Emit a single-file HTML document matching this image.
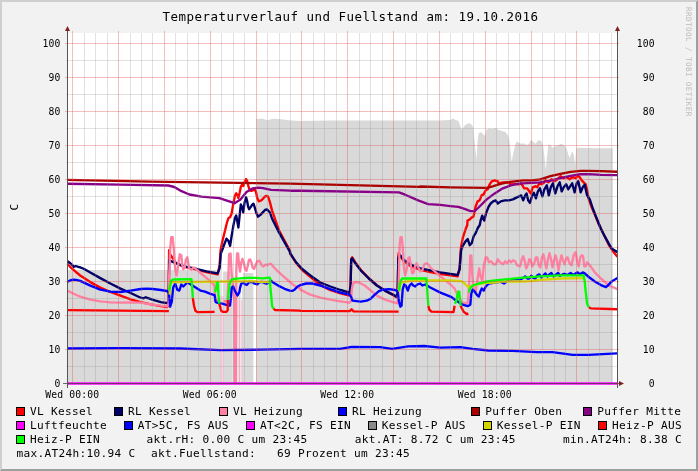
<!DOCTYPE html>
<html><head><meta charset="utf-8"><title>Temperaturverlauf und Fuellstand</title>
<style>html,body{margin:0;padding:0;background:#f2f2f2}svg{display:block}</style></head>
<body>
<svg width="698" height="471" viewBox="0 0 698 471">
<rect width="698" height="471" fill="#f2f2f2"/>
<path d="M0,0H698V2H2V471H0Z" fill="#cfcfcf"/>
<path d="M698,471H0L2,469H696V2L698,0Z" fill="#9e9e9e"/>
<rect x="67" y="33" width="550" height="350" fill="#fff"/>
<rect x="67.0" y="270.0" width="153.7" height="113.0" fill="#d9d9d9"/>
<rect x="222.9" y="271.5" width="9.6" height="111.5" fill="#d9d9d9"/>
<rect x="232.5" y="280.0" width="5.0" height="103.0" fill="#d9d9d9"/>
<rect x="238.3" y="280.0" width="2.2" height="103.0" fill="#d9d9d9"/>
<rect x="241.9" y="280.0" width="0.9" height="103.0" fill="#d9d9d9"/>
<rect x="242.8" y="273.0" width="10.5" height="110.0" fill="#d9d9d9"/>
<path d="M256.2,383 L256.2,118.7 L262.6,118.7 L267.1,120.2 L273.1,118.7 L279.1,119.0 L288.1,120.2 L300.2,121.1 L330.3,120.5 L438.6,120.5 L440.0,120.6 L450.3,120.1 L452.9,118.6 L455.5,120.1 L458.6,121.1 L460.1,125.8 L461.9,129.7 L464.5,125.8 L467.1,123.7 L469.7,123.2 L472.2,125.3 L473.5,128.4 L474.3,138.7 L475.6,151.6 L476.6,159.3 L477.6,141.3 L478.7,133.0 L481.3,132.2 L483.8,134.8 L485.1,136.1 L486.4,129.7 L489.0,128.4 L492.9,128.9 L495.4,127.8 L498.0,129.7 L501.9,130.9 L505.8,132.2 L507.6,134.8 L509.1,138.7 L510.1,146.4 L511.7,161.9 L513.0,154.2 L514.8,146.4 L516.6,141.3 L518.6,142.5 L521.2,143.8 L523.8,143.3 L526.4,145.1 L529.0,143.8 L530.8,140.0 L532.8,141.3 L535.4,143.8 L538.0,140.7 L540.1,140.0 L541.9,142.5 L543.1,145.1 L544.4,156.7 L545.7,169.6 L547.0,156.7 L548.3,145.1 L550.4,144.4 L552.2,147.7 L554.7,146.4 L558.6,145.1 L561.2,143.8 L563.8,145.1 L566.4,147.7 L568.2,154.2 L569.7,158.0 L571.5,152.9 L572.8,151.6 L574.1,156.7 L575.1,165.8 L576.2,149.0 L577.2,147.7 L594.7,148.2 L612.8,148.2 L612.8,383 Z" fill="#d9d9d9"/>
<g clip-path="url(#cp)">
<clipPath id="cp"><rect x="67" y="33" width="550" height="352"/></clipPath>
<path d="M67.1,263.4 L70.1,266.8 L74.1,270.4 L80.2,275.5 L90.3,282.1 L100.3,287.6 L110.4,292.0 L120.5,295.7 L130.6,299.3 L140.7,302.1 L150.8,304.3 L160.9,306.1 L166.9,307.1 L168.5,305.7 L168.9,280.5 L169.1,250.3 L169.4,253.2 L176.2,263.3 L184.3,266.8 L194.4,269.2 L206.5,272.2 L217.6,274.4 L219.6,265.3 L220.6,250.0 L222.2,241.9 L223.8,235.5 L225.4,229.1 L226.9,222.8 L228.5,218.0 L230.1,217.2 L231.7,213.2 L233.3,203.7 L234.9,195.7 L236.2,193.3 L237.3,194.9 L238.4,198.1 L239.7,192.5 L240.8,186.9 L242.1,184.6 L243.3,186.1 L244.5,182.2 L246.1,179.0 L247.3,181.4 L248.4,186.1 L249.7,190.1 L251.3,190.9 L253.2,190.1 L254.8,189.3 L256.1,192.5 L257.2,198.1 L258.8,201.3 L261.2,200.5 L263.6,198.1 L265.0,196.5 L266.0,195.9 L268.0,196.3 L270.0,202.4 L272.0,210.4 L279.1,230.6 L290.0,250.8 L290.1,253.6 L296.1,262.9 L302.2,270.0 L310.3,276.8 L320.3,285.1 L330.4,290.2 L340.5,293.4 L349.6,295.6 L350.6,285.5 L351.2,259.3 L352.2,257.3 L356.7,264.3 L360.7,269.8 L368.8,278.1 L376.8,285.1 L384.9,290.6 L393.0,295.0 L396.6,297.2 L397.6,293.6 L398.4,255.3 L398.7,253.2 L399.5,255.3 L404.1,261.5 L410.2,265.8 L420.3,269.8 L430.3,272.0 L440.4,274.0 L450.5,275.4 L457.6,276.4 L459.6,268.4 L461.0,247.2 L463.0,237.1 L465.7,229.0 L467.3,225.0 L467.5,220.6 L469.5,219.6 L471.5,217.6 L473.5,216.6 L475.6,206.5 L477.6,201.4 L479.6,200.4 L481.6,195.4 L483.6,194.4 L485.7,190.3 L487.7,189.3 L489.7,184.3 L491.7,181.3 L494.7,180.3 L497.8,181.3 L498.8,183.3 L502.8,182.3 L506.8,182.3 L510.9,184.3 L514.9,183.9 L518.9,184.3 L521.2,183.3 L524.2,188.3 L527.2,188.3 L529.3,191.4 L530.9,193.4 L532.7,187.3 L535.3,186.3 L537.3,187.3 L539.3,183.3 L541.4,184.3 L543.4,183.3 L545.4,180.3 L548.4,182.3 L551.4,179.3 L554.5,181.3 L557.5,179.3 L560.5,176.2 L563.5,178.2 L566.6,177.2 L569.6,179.3 L572.6,177.2 L575.7,178.2 L577.7,175.8 L579.7,177.2 L581.7,180.3 L583.7,182.3 L585.7,184.3 L587.1,190.3 L588.8,199.4 L591.8,207.5 L594.8,214.6 L598.9,224.6 L602.9,232.7 L606.9,240.8 L608.9,245.0 L613.0,251.2 L617.4,256.9" fill="none" stroke="#ff0000" stroke-width="2.35" stroke-linejoin="round" stroke-linecap="butt"/>
<path d="M67.1,261.0 L70.1,263.0 L72.1,264.8 L73.7,266.8 L75.7,266.0 L78.2,266.8 L80.2,267.4 L84.2,269.0 L90.3,272.5 L100.3,278.1 L110.4,283.5 L120.5,288.6 L130.6,293.0 L140.7,297.7 L143.7,298.3 L145.7,297.3 L148.8,298.3 L154.8,300.3 L160.9,302.1 L166.9,303.1 L168.3,301.7 L168.9,280.5 L169.1,260.3 L169.2,260.3 L176.2,263.3 L184.3,266.4 L194.4,268.4 L206.5,271.4 L217.6,273.4 L219.6,268.4 L221.0,253.2 L222.2,250.0 L224.6,243.5 L226.5,238.7 L228.5,241.1 L230.1,245.9 L231.7,235.5 L233.3,226.0 L234.9,218.0 L236.2,215.6 L237.3,221.2 L238.4,227.5 L239.7,214.8 L240.8,204.5 L242.1,206.8 L243.3,212.4 L244.5,202.9 L246.1,197.3 L247.2,201.3 L248.1,206.8 L249.2,209.2 L250.8,206.8 L252.4,204.5 L253.5,203.7 L254.8,207.6 L256.4,213.2 L258.0,216.7 L260.4,214.8 L262.8,212.4 L265.0,210.0 L267.0,209.4 L270.0,212.5 L272.0,218.5 L279.1,232.6 L290.0,251.8 L290.1,253.2 L296.1,262.3 L302.2,269.0 L310.3,275.4 L320.3,282.5 L330.4,286.5 L340.5,290.0 L349.6,292.6 L350.6,285.5 L351.2,259.3 L352.2,258.3 L354.6,262.3 L360.7,270.4 L368.8,278.5 L376.8,285.5 L384.9,290.6 L393.0,294.6 L396.6,296.6 L397.6,293.6 L398.4,257.3 L398.7,257.3 L400.1,255.3 L404.1,260.3 L410.2,264.3 L420.3,268.4 L430.3,270.4 L440.4,272.4 L450.5,273.8 L457.6,275.0 L459.6,269.4 L461.0,251.2 L462.6,246.2 L465.7,241.1 L467.7,239.1 L469.7,245.2 L471.7,243.2 L473.7,236.1 L475.7,233.1 L477.8,228.0 L479.8,225.0 L480.6,220.6 L482.2,215.6 L484.2,220.6 L486.3,212.5 L488.7,206.5 L490.7,203.5 L493.1,201.4 L495.7,200.4 L497.8,203.5 L500.8,201.4 L504.8,200.4 L508.9,200.4 L512.9,199.4 L516.9,197.4 L519.2,196.4 L521.2,195.4 L523.2,200.4 L525.2,195.4 L526.6,193.4 L528.2,200.4 L529.9,202.9 L531.9,196.4 L533.9,192.8 L535.9,198.4 L537.9,191.4 L539.9,188.3 L542.4,196.4 L544.4,189.3 L546.8,185.3 L548.8,195.4 L550.8,187.3 L552.9,183.3 L555.3,193.4 L557.5,186.3 L559.7,182.3 L561.7,191.4 L563.7,187.3 L566.2,184.3 L568.2,189.3 L570.2,186.3 L572.2,183.3 L574.6,192.4 L576.7,183.3 L578.3,181.3 L580.7,192.4 L582.7,187.3 L584.7,184.7 L587.1,195.4 L589.8,199.4 L592.8,208.5 L596.8,218.6 L600.9,228.7 L604.9,236.7 L608.9,243.8 L612.0,248.8 L617.4,252.2" fill="none" stroke="#000066" stroke-width="2.35" stroke-linejoin="round" stroke-linecap="butt"/>
<path d="M67.1,290.6 L72.1,293.0 L80.2,296.7 L90.3,299.7 L100.3,301.3 L110.4,302.3 L120.5,302.7 L130.6,302.3 L140.7,302.7 L150.8,304.3 L160.9,305.7 L166.9,306.3 L168.5,304.7 L168.8,285.5 L170.2,249.2 L171.2,237.1 L172.6,237.1 L173.8,249.2 L175.2,269.4 L176.6,275.4 L178.2,265.3 L179.7,254.3 L181.3,255.3 L182.3,265.3 L183.3,269.4 L184.7,267.4 L185.9,259.3 L187.3,257.3 L188.3,263.3 L189.3,268.4 L191.4,269.8 L193.4,267.4 L196.0,269.1 L210.1,281.1 L213.6,284.2 L214.6,287.0 L215.0,296.0 L216.0,300.0 L220.0,301.0" fill="none" stroke="#ff80a0" stroke-width="2.35" stroke-linejoin="round" stroke-linecap="butt"/>
<path d="M223.5,301.0 L227.5,302.0 L228.1,286.1 L229.1,254.0 L230.6,253.5 L231.6,273.1 L233.1,287.0 L234.3,300.0 L234.7,383.0 L235.9,383.0 L236.3,270.1 L237.1,253.5 L238.1,253.5 L239.1,265.1 L240.0,271.6 L241.3,262.6 L242.5,258.8 L243.8,262.6 L245.1,269.0 L246.4,270.9 L247.6,266.5 L248.9,260.1 L250.2,259.5 L251.5,262.6 L252.7,267.7 L254.0,269.0 L255.3,265.8 L257.2,261.4 L259.1,260.7 L260.4,262.6 L261.7,265.2 L263.6,266.5 L265.5,264.6 L267.4,265.2 L269.3,263.9 L271.2,263.9 L273.1,266.5 L278.2,271.6 L284.6,277.3 L291.0,283.0 L296.0,286.8 L300.0,288.4 L300.2,289.6 L310.3,294.6 L320.3,297.6 L330.4,299.6 L340.5,301.3 L349.6,302.7 L351.0,300.7 L351.8,289.6 L353.0,283.5 L355.7,282.1 L358.7,282.5 L364.7,285.5 L370.8,290.6 L376.8,295.6 L384.9,299.6 L393.0,302.1 L397.6,303.3 L398.6,285.5 L399.4,253.2 L399.7,245.2 L400.5,237.1 L401.7,237.1 L402.7,247.2 L403.7,265.3 L405.1,275.4 L406.7,269.4 L408.2,258.3 L409.6,257.3 L410.8,265.3 L412.2,273.4 L413.8,272.4 L415.2,265.3 L416.6,263.3 L418.2,267.4 L420.3,271.4 L422.3,270.4 L424.3,264.3 L426.3,263.3 L428.3,264.3 L430.3,267.4 L440.4,276.4 L450.5,284.5 L454.6,288.5 L458.6,297.6 L462.6,302.7 L467.7,303.3 L469.1,285.5 L470.3,255.3 L471.3,255.3 L472.3,275.4 L473.7,289.6 L475.7,291.6 L477.8,277.5 L479.2,268.4 L480.8,277.5 L482.4,280.5 L483.8,265.3 L485.8,257.3 L487.2,257.3 L488.9,262.3 L490.9,261.3 L493.9,264.3 L495.9,264.3 L497.9,259.3 L499.9,262.3 L500.0,262.3 L503.0,264.3 L505.0,261.3 L507.1,263.3 L509.1,260.3 L511.1,262.3 L513.1,260.3 L515.1,261.3 L517.1,265.3 L520.2,266.4 L521.8,259.3 L523.2,256.3 L524.6,260.3 L526.2,268.4 L527.8,265.3 L529.3,259.3 L530.7,260.3 L532.3,266.4 L534.3,263.3 L535.9,257.3 L537.3,257.3 L538.7,265.3 L540.3,267.4 L542.0,257.3 L543.4,254.3 L544.8,261.3 L546.4,268.4 L548.0,259.3 L549.4,253.2 L550.8,258.3 L552.5,267.4 L554.1,260.3 L555.5,255.3 L556.9,260.3 L558.5,270.4 L560.1,261.3 L561.5,255.3 L562.9,260.3 L564.6,264.3 L566.2,258.3 L567.6,257.3 L569.6,263.3 L571.6,265.3 L573.6,255.3 L575.7,252.2 L577.1,261.3 L578.7,266.4 L580.3,257.3 L581.7,255.3 L583.1,256.3 L584.3,266.4 L585.7,266.4 L587.1,262.3 L589.8,265.3 L594.8,272.4 L600.9,278.5 L608.9,285.5 L617.4,289.2" fill="none" stroke="#ff80a0" stroke-width="2.35" stroke-linejoin="round" stroke-linecap="butt"/>
<path d="M220.9,296 V383" stroke="#ff90b4" stroke-opacity=".6" stroke-width="1"/>
<path d="M222.9,296 V383" stroke="#ff90b4" stroke-opacity=".6" stroke-width="1"/>
<path d="M239.6,300 V383" stroke="#ff90b4" stroke-opacity=".6" stroke-width="1"/>
<path d="M241.8,300 V383" stroke="#ff90b4" stroke-opacity=".6" stroke-width="1"/>
<path d="M67.1,281.9 L70.1,280.5 L73.1,279.7 L76.1,279.9 L80.2,280.9 L90.3,285.6 L100.3,289.6 L110.4,291.6 L120.5,292.0 L130.6,290.6 L140.7,289.0 L146.7,288.6 L152.8,289.0 L160.9,290.0 L166.9,291.0 L168.9,292.6 L170.2,306.7 L171.8,301.7 L173.2,287.5 L175.2,283.5 L177.2,289.6 L179.3,290.6 L181.3,284.5 L183.3,286.5 L185.3,284.5 L187.3,282.5 L189.3,283.5 L192.4,285.5 L200.4,290.6 L205.0,291.7 L209.8,293.6 L214.6,295.1 L215.5,301.7 L216.9,302.7 L222.2,303.7 L227.0,305.1 L230.0,305.6 L230.8,298.9 L231.7,287.4 L233.2,286.5 L234.6,290.3 L237.5,295.5 L239.4,292.2 L240.0,288.1 L241.3,283.7 L243.2,282.4 L245.1,284.3 L247.0,284.9 L248.9,282.4 L250.8,281.8 L252.7,282.4 L254.6,283.7 L257.2,284.3 L259.1,282.4 L261.7,281.8 L264.2,283.0 L266.8,283.7 L268.7,282.4 L270.6,280.5 L273.1,282.4 L278.2,285.6 L284.6,288.8 L289.7,290.7 L292.2,290.9 L294.8,289.4 L297.3,286.8 L300.0,285.3 L300.2,285.1 L306.2,283.5 L312.3,283.5 L320.3,285.5 L330.4,289.2 L340.5,292.6 L349.6,294.6 L351.0,296.6 L352.6,300.7 L360.7,301.7 L366.7,300.7 L370.8,298.6 L374.8,294.6 L378.9,291.2 L382.9,289.6 L388.9,289.2 L395.0,290.0 L397.6,291.2 L399.0,301.7 L400.4,306.7 L401.6,305.7 L401.7,302.7 L402.7,289.6 L404.1,284.5 L405.7,285.5 L407.8,290.6 L409.6,285.5 L411.6,283.5 L413.2,285.5 L415.2,286.5 L417.2,284.5 L420.3,283.5 L422.3,285.5 L425.3,284.5 L430.3,287.5 L440.4,292.6 L450.5,296.6 L456.6,300.7 L462.6,304.7 L467.7,306.1 L470.3,304.7 L471.3,293.6 L472.7,289.6 L474.7,291.6 L476.7,294.6 L478.8,296.6 L480.4,291.6 L481.8,288.5 L483.8,290.6 L485.8,286.5 L488.9,283.5 L494.9,282.5 L499.9,281.9 L500.0,281.5 L504.0,283.5 L508.1,280.5 L512.1,279.5 L516.1,279.1 L520.2,279.5 L523.2,277.9 L525.2,276.4 L527.2,278.5 L529.3,278.5 L531.3,275.8 L533.3,277.9 L535.3,278.5 L537.3,275.4 L539.3,274.4 L541.4,277.5 L543.4,275.4 L545.4,273.4 L547.4,276.4 L549.4,274.4 L551.4,273.0 L553.5,276.4 L555.5,275.0 L558.1,273.0 L560.1,275.8 L562.5,274.4 L564.6,273.8 L567.6,275.0 L570.6,273.0 L573.0,275.0 L575.7,273.4 L577.7,272.4 L579.7,274.4 L582.7,272.4 L584.7,273.4 L588.8,277.0 L594.8,281.5 L600.9,285.1 L605.9,287.1 L607.9,285.5 L611.0,282.1 L617.4,277.9" fill="none" stroke="#0000ff" stroke-width="2.35" stroke-linejoin="round" stroke-linecap="butt"/>
<path d="M67.0,179.8 L150.0,181.6 L290.0,183.7 L420.0,186.8 L420.1,186.5 L450.3,187.3 L486.7,187.9 L492.7,186.3 L498.8,184.3 L506.8,182.3 L514.9,181.3 L523.0,180.3 L531.0,180.3 L541.1,179.3 L540.3,179.3 L550.4,176.2 L560.5,173.8 L570.6,171.8 L580.7,170.8 L588.8,170.8 L600.9,171.2 L617.4,171.8" fill="none" stroke="#aa0000" stroke-width="2.35" stroke-linejoin="round" stroke-linecap="butt"/>
<path d="M66.3,183.7 L120.2,184.6 L168.3,185.5 L174.3,187.0 L180.3,190.6 L189.4,194.5 L201.4,196.6 L219.4,198.1 L228.5,201.1 L234.5,203.2 L240.5,199.6 L246.5,192.1 L252.5,188.5 L258.6,187.6 L263.0,188.2 L271.0,189.9 L290.0,190.7 L300.2,190.7 L399.0,192.3 L405.1,194.7 L413.1,198.3 L410.0,196.8 L418.1,200.4 L428.2,204.1 L440.3,204.9 L450.3,206.1 L458.4,206.9 L464.5,208.9 L470.5,211.1 L474.6,211.1 L478.6,207.5 L486.7,199.4 L494.7,193.4 L502.8,188.3 L510.9,185.3 L518.9,183.7 L531.0,182.9 L541.1,182.3 L540.3,182.3 L550.4,180.7 L560.5,178.2 L570.6,175.8 L580.7,174.2 L588.8,174.2 L600.9,174.8 L617.4,175.2" fill="none" stroke="#880088" stroke-width="2.35" stroke-linejoin="round" stroke-linecap="butt"/>
<path d="M66.8,348.5 L120.2,348.1 L180.3,348.5 L220.4,350.1 L260.6,349.7 L300.7,348.9 L340.0,348.9 L352.0,346.8 L380.1,347.2 L392.1,348.9 L408.2,346.4 L424.2,346.0 L440.3,347.6 L460.3,347.2 L472.4,348.9 L488.4,350.5 L512.5,350.9 L536.6,352.1 L552.6,352.1 L572.7,354.9 L588.7,354.9 L617.6,353.3" fill="none" stroke="#0000ff" stroke-width="2.35" stroke-linejoin="round" stroke-linecap="butt"/>
<path d="M169.6,294.6 L170.2,283.5 L172.2,282.1 L240.0,281.4 L252.7,281.1 L259.0,281.8 L270.0,282.0" fill="none" stroke="#d4d400" stroke-width="2.35" stroke-linejoin="round" stroke-linecap="butt"/>
<path d="M399.0,291.6 L400.4,284.5 L402.0,282.1 L410.2,280.9 L430.3,280.5 L450.5,280.5 L461.6,281.1 L464.6,283.5 L467.7,286.5 L469.7,287.1 L472.7,285.5 L478.8,283.9 L486.8,282.9 L494.9,282.5 L500.0,281.5 L520.2,281.5 L530.3,281.1 L540.3,279.9 L560.5,278.5 L583.7,278.1" fill="none" stroke="#d4d400" stroke-width="2.35" stroke-linejoin="round" stroke-linecap="butt"/>
<path d="M67.1,310.2 L168.9,311.2" fill="none" stroke="#ff0000" stroke-width="2.35" stroke-linejoin="round" stroke-linecap="butt"/>
<path d="M192.8,297.6 L194.0,305.7 L195.4,310.7 L197.4,312.1 L214.6,311.8" fill="none" stroke="#ff0000" stroke-width="2.35" stroke-linejoin="round" stroke-linecap="butt"/>
<path d="M219.3,303.7 L220.3,307.5 L221.2,310.8 L222.7,311.8 L226.5,311.8 L227.7,310.3 L227.9,299.8" fill="none" stroke="#ff0000" stroke-width="2.35" stroke-linejoin="round" stroke-linecap="butt"/>
<path d="M273.4,308.5 L275.0,310.0 L300.0,310.7 L300.2,310.9 L349.6,311.1 L351.6,309.3 L353.6,311.3 L398.6,311.7" fill="none" stroke="#ff0000" stroke-width="2.35" stroke-linejoin="round" stroke-linecap="butt"/>
<path d="M428.3,305.7 L429.3,309.7 L431.4,311.7 L453.5,312.1 L454.6,305.7" fill="none" stroke="#ff0000" stroke-width="2.35" stroke-linejoin="round" stroke-linecap="butt"/>
<path d="M460.6,305.7 L463.6,311.7 L466.7,314.2 L468.3,313.4" fill="none" stroke="#ff0000" stroke-width="2.35" stroke-linejoin="round" stroke-linecap="butt"/>
<path d="M588.8,307.3 L590.8,308.3 L617.4,309.3" fill="none" stroke="#ff0000" stroke-width="2.35" stroke-linejoin="round" stroke-linecap="butt"/>
<path d="M169.2,290.6 L170.2,285.5 L171.2,280.5 L173.2,279.5 L191.4,279.1 L192.0,285.5 L192.8,297.6" fill="none" stroke="#00ff00" stroke-width="2.35" stroke-linejoin="round" stroke-linecap="butt"/>
<path d="M215.0,292.2 L216.0,289.3 L216.9,282.6 L217.9,282.6 L218.4,294.1 L219.3,303.7" fill="none" stroke="#00ff00" stroke-width="2.35" stroke-linejoin="round" stroke-linecap="butt"/>
<path d="M227.9,299.8 L228.9,289.3 L230.0,282.6 L231.3,279.8 L233.7,278.8 L246.4,277.9 L255.3,277.9 L263.0,278.3 L268.7,277.7 L270.0,278.0 L270.3,286.8 L271.2,295.8 L272.1,306.0 L273.4,308.5" fill="none" stroke="#00ff00" stroke-width="2.35" stroke-linejoin="round" stroke-linecap="butt"/>
<path d="M399.0,290.6 L400.0,283.5 L401.0,279.9 L403.1,278.5 L402.1,278.5 L426.3,278.5 L426.9,285.5 L427.7,297.6 L428.3,305.7" fill="none" stroke="#00ff00" stroke-width="2.35" stroke-linejoin="round" stroke-linecap="butt"/>
<path d="M455.0,303.7 L456.6,299.6 L458.2,291.6 L459.2,291.6 L460.0,299.6 L460.6,305.7" fill="none" stroke="#00ff00" stroke-width="2.35" stroke-linejoin="round" stroke-linecap="butt"/>
<path d="M469.1,292.6 L470.1,288.5 L472.7,285.5 L478.8,283.5 L486.8,281.5 L494.9,280.5 L500.0,279.9 L520.2,277.9 L540.3,276.4 L560.5,275.4 L583.7,275.4 L584.7,281.5 L585.7,291.6 L587.1,303.7 L588.8,307.3" fill="none" stroke="#00ff00" stroke-width="2.35" stroke-linejoin="round" stroke-linecap="butt"/>
</g>
<path d="M72.5,31 V385" stroke="rgb(222,79,79)" stroke-opacity=".37" stroke-width="1"/>
<path d="M84.5,33 V383" stroke="rgb(143,143,143)" stroke-opacity=".27" stroke-width="1"/>
<path d="M95.5,33 V383" stroke="rgb(143,143,143)" stroke-opacity=".27" stroke-width="1"/>
<path d="M107.5,33 V383" stroke="rgb(143,143,143)" stroke-opacity=".27" stroke-width="1"/>
<path d="M118.5,31 V385" stroke="rgb(222,79,79)" stroke-opacity=".37" stroke-width="1"/>
<path d="M130.5,33 V383" stroke="rgb(143,143,143)" stroke-opacity=".27" stroke-width="1"/>
<path d="M141.5,33 V383" stroke="rgb(143,143,143)" stroke-opacity=".27" stroke-width="1"/>
<path d="M152.5,33 V383" stroke="rgb(143,143,143)" stroke-opacity=".27" stroke-width="1"/>
<path d="M164.5,31 V385" stroke="rgb(222,79,79)" stroke-opacity=".37" stroke-width="1"/>
<path d="M175.5,33 V383" stroke="rgb(143,143,143)" stroke-opacity=".27" stroke-width="1"/>
<path d="M187.5,33 V383" stroke="rgb(143,143,143)" stroke-opacity=".27" stroke-width="1"/>
<path d="M198.5,33 V383" stroke="rgb(143,143,143)" stroke-opacity=".27" stroke-width="1"/>
<path d="M210.5,31 V385" stroke="rgb(222,79,79)" stroke-opacity=".37" stroke-width="1"/>
<path d="M221.5,33 V383" stroke="rgb(143,143,143)" stroke-opacity=".27" stroke-width="1"/>
<path d="M233.5,33 V383" stroke="rgb(143,143,143)" stroke-opacity=".27" stroke-width="1"/>
<path d="M244.5,33 V383" stroke="rgb(143,143,143)" stroke-opacity=".27" stroke-width="1"/>
<path d="M256.5,31 V385" stroke="rgb(222,79,79)" stroke-opacity=".37" stroke-width="1"/>
<path d="M267.5,33 V383" stroke="rgb(143,143,143)" stroke-opacity=".27" stroke-width="1"/>
<path d="M279.5,33 V383" stroke="rgb(143,143,143)" stroke-opacity=".27" stroke-width="1"/>
<path d="M290.5,33 V383" stroke="rgb(143,143,143)" stroke-opacity=".27" stroke-width="1"/>
<path d="M301.5,31 V385" stroke="rgb(222,79,79)" stroke-opacity=".37" stroke-width="1"/>
<path d="M313.5,33 V383" stroke="rgb(143,143,143)" stroke-opacity=".27" stroke-width="1"/>
<path d="M324.5,33 V383" stroke="rgb(143,143,143)" stroke-opacity=".27" stroke-width="1"/>
<path d="M336.5,33 V383" stroke="rgb(143,143,143)" stroke-opacity=".27" stroke-width="1"/>
<path d="M347.5,31 V385" stroke="rgb(222,79,79)" stroke-opacity=".37" stroke-width="1"/>
<path d="M359.5,33 V383" stroke="rgb(143,143,143)" stroke-opacity=".27" stroke-width="1"/>
<path d="M370.5,33 V383" stroke="rgb(143,143,143)" stroke-opacity=".27" stroke-width="1"/>
<path d="M382.5,33 V383" stroke="rgb(143,143,143)" stroke-opacity=".27" stroke-width="1"/>
<path d="M393.5,31 V385" stroke="rgb(222,79,79)" stroke-opacity=".37" stroke-width="1"/>
<path d="M405.5,33 V383" stroke="rgb(143,143,143)" stroke-opacity=".27" stroke-width="1"/>
<path d="M416.5,33 V383" stroke="rgb(143,143,143)" stroke-opacity=".27" stroke-width="1"/>
<path d="M427.5,33 V383" stroke="rgb(143,143,143)" stroke-opacity=".27" stroke-width="1"/>
<path d="M439.5,31 V385" stroke="rgb(222,79,79)" stroke-opacity=".37" stroke-width="1"/>
<path d="M450.5,33 V383" stroke="rgb(143,143,143)" stroke-opacity=".27" stroke-width="1"/>
<path d="M462.5,33 V383" stroke="rgb(143,143,143)" stroke-opacity=".27" stroke-width="1"/>
<path d="M473.5,33 V383" stroke="rgb(143,143,143)" stroke-opacity=".27" stroke-width="1"/>
<path d="M485.5,31 V385" stroke="rgb(222,79,79)" stroke-opacity=".37" stroke-width="1"/>
<path d="M496.5,33 V383" stroke="rgb(143,143,143)" stroke-opacity=".27" stroke-width="1"/>
<path d="M508.5,33 V383" stroke="rgb(143,143,143)" stroke-opacity=".27" stroke-width="1"/>
<path d="M519.5,33 V383" stroke="rgb(143,143,143)" stroke-opacity=".27" stroke-width="1"/>
<path d="M531.5,31 V385" stroke="rgb(222,79,79)" stroke-opacity=".37" stroke-width="1"/>
<path d="M542.5,33 V383" stroke="rgb(143,143,143)" stroke-opacity=".27" stroke-width="1"/>
<path d="M554.5,33 V383" stroke="rgb(143,143,143)" stroke-opacity=".27" stroke-width="1"/>
<path d="M565.5,33 V383" stroke="rgb(143,143,143)" stroke-opacity=".27" stroke-width="1"/>
<path d="M576.5,31 V385" stroke="rgb(222,79,79)" stroke-opacity=".37" stroke-width="1"/>
<path d="M588.5,33 V383" stroke="rgb(143,143,143)" stroke-opacity=".27" stroke-width="1"/>
<path d="M599.5,33 V383" stroke="rgb(143,143,143)" stroke-opacity=".27" stroke-width="1"/>
<path d="M611.5,33 V383" stroke="rgb(143,143,143)" stroke-opacity=".27" stroke-width="1"/>
<path d="M65,383.5 H619" stroke="rgb(222,79,79)" stroke-opacity=".37" stroke-width="1"/>
<path d="M66,366.5 H618" stroke="rgb(143,143,143)" stroke-opacity=".27" stroke-width="1"/>
<path d="M65,349.5 H619" stroke="rgb(222,79,79)" stroke-opacity=".37" stroke-width="1"/>
<path d="M66,332.5 H618" stroke="rgb(143,143,143)" stroke-opacity=".27" stroke-width="1"/>
<path d="M65,315.5 H619" stroke="rgb(222,79,79)" stroke-opacity=".37" stroke-width="1"/>
<path d="M66,298.5 H618" stroke="rgb(143,143,143)" stroke-opacity=".27" stroke-width="1"/>
<path d="M65,281.5 H619" stroke="rgb(222,79,79)" stroke-opacity=".37" stroke-width="1"/>
<path d="M66,264.5 H618" stroke="rgb(143,143,143)" stroke-opacity=".27" stroke-width="1"/>
<path d="M65,247.5 H619" stroke="rgb(222,79,79)" stroke-opacity=".37" stroke-width="1"/>
<path d="M66,230.5 H618" stroke="rgb(143,143,143)" stroke-opacity=".27" stroke-width="1"/>
<path d="M65,213.5 H619" stroke="rgb(222,79,79)" stroke-opacity=".37" stroke-width="1"/>
<path d="M66,196.5 H618" stroke="rgb(143,143,143)" stroke-opacity=".27" stroke-width="1"/>
<path d="M65,179.5 H619" stroke="rgb(222,79,79)" stroke-opacity=".37" stroke-width="1"/>
<path d="M66,162.5 H618" stroke="rgb(143,143,143)" stroke-opacity=".27" stroke-width="1"/>
<path d="M65,145.5 H619" stroke="rgb(222,79,79)" stroke-opacity=".37" stroke-width="1"/>
<path d="M66,128.5 H618" stroke="rgb(143,143,143)" stroke-opacity=".27" stroke-width="1"/>
<path d="M65,111.5 H619" stroke="rgb(222,79,79)" stroke-opacity=".37" stroke-width="1"/>
<path d="M66,94.5 H618" stroke="rgb(143,143,143)" stroke-opacity=".27" stroke-width="1"/>
<path d="M65,77.5 H619" stroke="rgb(222,79,79)" stroke-opacity=".37" stroke-width="1"/>
<path d="M66,60.5 H618" stroke="rgb(143,143,143)" stroke-opacity=".27" stroke-width="1"/>
<path d="M65,43.5 H619" stroke="rgb(222,79,79)" stroke-opacity=".37" stroke-width="1"/>
<path d="M67,383.5 H617" stroke="#ff00ff" stroke-width="2.4"/>
<path d="M63,383.5 H621" stroke="#444" stroke-opacity=".75" stroke-width="1"/>
<path d="M67.5,30 V388 M617.5,30 V388" stroke="#555"  stroke-width="1"/>
<path d="M619,381 L624,383.5 L619,386 Z" fill="#7f1f1f"/>
<path d="M65,31 L67.5,26 L70,31 Z" fill="#7f1f1f"/>
<path d="M615,31 L617.5,26 L620,31 Z" fill="#7f1f1f"/>
<g font-family="'DejaVu Sans Mono', 'Liberation Mono', monospace" fill="#000">
<text x="350.6" y="21" font-size="12.5" letter-spacing=".475" text-anchor="middle">Temperaturverlauf und Fuellstand am: 19.10.2016</text>
<g font-size="9.72" letter-spacing=".148">
<text x="60.5" y="386.9" text-anchor="end">0</text>
<text x="654.8" y="386.9" text-anchor="end">0</text>
<text x="60.5" y="352.9" text-anchor="end">10</text>
<text x="654.8" y="352.9" text-anchor="end">10</text>
<text x="60.5" y="318.9" text-anchor="end">20</text>
<text x="654.8" y="318.9" text-anchor="end">20</text>
<text x="60.5" y="284.9" text-anchor="end">30</text>
<text x="654.8" y="284.9" text-anchor="end">30</text>
<text x="60.5" y="250.8" text-anchor="end">40</text>
<text x="654.8" y="250.8" text-anchor="end">40</text>
<text x="60.5" y="216.8" text-anchor="end">50</text>
<text x="654.8" y="216.8" text-anchor="end">50</text>
<text x="60.5" y="182.8" text-anchor="end">60</text>
<text x="654.8" y="182.8" text-anchor="end">60</text>
<text x="60.5" y="148.8" text-anchor="end">70</text>
<text x="654.8" y="148.8" text-anchor="end">70</text>
<text x="60.5" y="114.8" text-anchor="end">80</text>
<text x="654.8" y="114.8" text-anchor="end">80</text>
<text x="60.5" y="80.8" text-anchor="end">90</text>
<text x="654.8" y="80.8" text-anchor="end">90</text>
<text x="60.5" y="46.9" text-anchor="end">100</text>
<text x="654.8" y="46.9" text-anchor="end">100</text>
<text x="72.3" y="398" text-anchor="middle">Wed 00:00</text>
<text x="209.8" y="398" text-anchor="middle">Wed 06:00</text>
<text x="347.3" y="398" text-anchor="middle">Wed 12:00</text>
<text x="484.8" y="398" text-anchor="middle">Wed 18:00</text>
</g>
<text transform="translate(18.2,210.6) rotate(-90)" font-size="11.11">C</text>
<text transform="translate(685.5,7) rotate(90)" font-size="7.64" letter-spacing=".4" fill="#bbbbbb">RRDTOOL / TOBI OETIKER</text>
<g font-size="11.11" letter-spacing=".311" style="white-space:pre">
<rect x="16.5" y="407.5" width="8" height="8" fill="#ff0000" stroke="#000" stroke-width="1"/>
<text x="29.9" y="415.0">VL Kessel</text>
<rect x="114.5" y="407.5" width="8" height="8" fill="#000066" stroke="#000" stroke-width="1"/>
<text x="128.0" y="415.0">RL Kessel</text>
<rect x="219.5" y="407.5" width="8" height="8" fill="#ff80a0" stroke="#000" stroke-width="1"/>
<text x="233.1" y="415.0">VL Heizung</text>
<rect x="338.5" y="407.5" width="8" height="8" fill="#0000ff" stroke="#000" stroke-width="1"/>
<text x="352.0" y="415.0">RL Heizung</text>
<rect x="471.5" y="407.5" width="8" height="8" fill="#aa0000" stroke="#000" stroke-width="1"/>
<text x="485.2" y="415.0">Puffer Oben</text>
<rect x="583.5" y="407.5" width="8" height="8" fill="#880088" stroke="#000" stroke-width="1"/>
<text x="597.3" y="415.0">Puffer Mitte</text>
<rect x="16.5" y="421.5" width="8" height="8" fill="#ff00ff" stroke="#000" stroke-width="1"/>
<text x="29.9" y="429.0">Luftfeuchte</text>
<rect x="124.5" y="421.5" width="8" height="8" fill="#0000ff" stroke="#000" stroke-width="1"/>
<text x="137.7" y="429.0">AT&gt;5C, FS AUS</text>
<rect x="246.5" y="421.5" width="8" height="8" fill="#ff00ff" stroke="#000" stroke-width="1"/>
<text x="259.9" y="429.0">AT&lt;2C, FS EIN</text>
<rect x="368.5" y="421.5" width="8" height="8" fill="#888888" stroke="#000" stroke-width="1"/>
<text x="381.7" y="429.0">Kessel-P AUS</text>
<rect x="483.5" y="421.5" width="8" height="8" fill="#d4d400" stroke="#000" stroke-width="1"/>
<text x="496.7" y="429.0">Kessel-P EIN</text>
<rect x="598.5" y="421.5" width="8" height="8" fill="#ff0000" stroke="#000" stroke-width="1"/>
<text x="612.0" y="429.0">Heiz-P AUS</text>
<rect x="16.5" y="435.5" width="8" height="8" fill="#00ff00" stroke="#000" stroke-width="1"/>
<text x="29.9" y="443.0">Heiz-P EIN</text>
<text x="146.5" y="443.0">akt.rH: 0.00 C um 23:45</text>
<text x="354.8" y="443.0">akt.AT: 8.72 C um 23:45</text>
<text x="563.1" y="443.0">min.AT24h: 8.38 C</text>
<text x="16.4" y="457.0">max.AT24h:10.94 C</text>
<text x="151.1" y="457.0">akt.Fuellstand:&#160;&#160;&#160;69 Prozent um 23:45</text>
</g>
</g>
</svg>
</body></html>
